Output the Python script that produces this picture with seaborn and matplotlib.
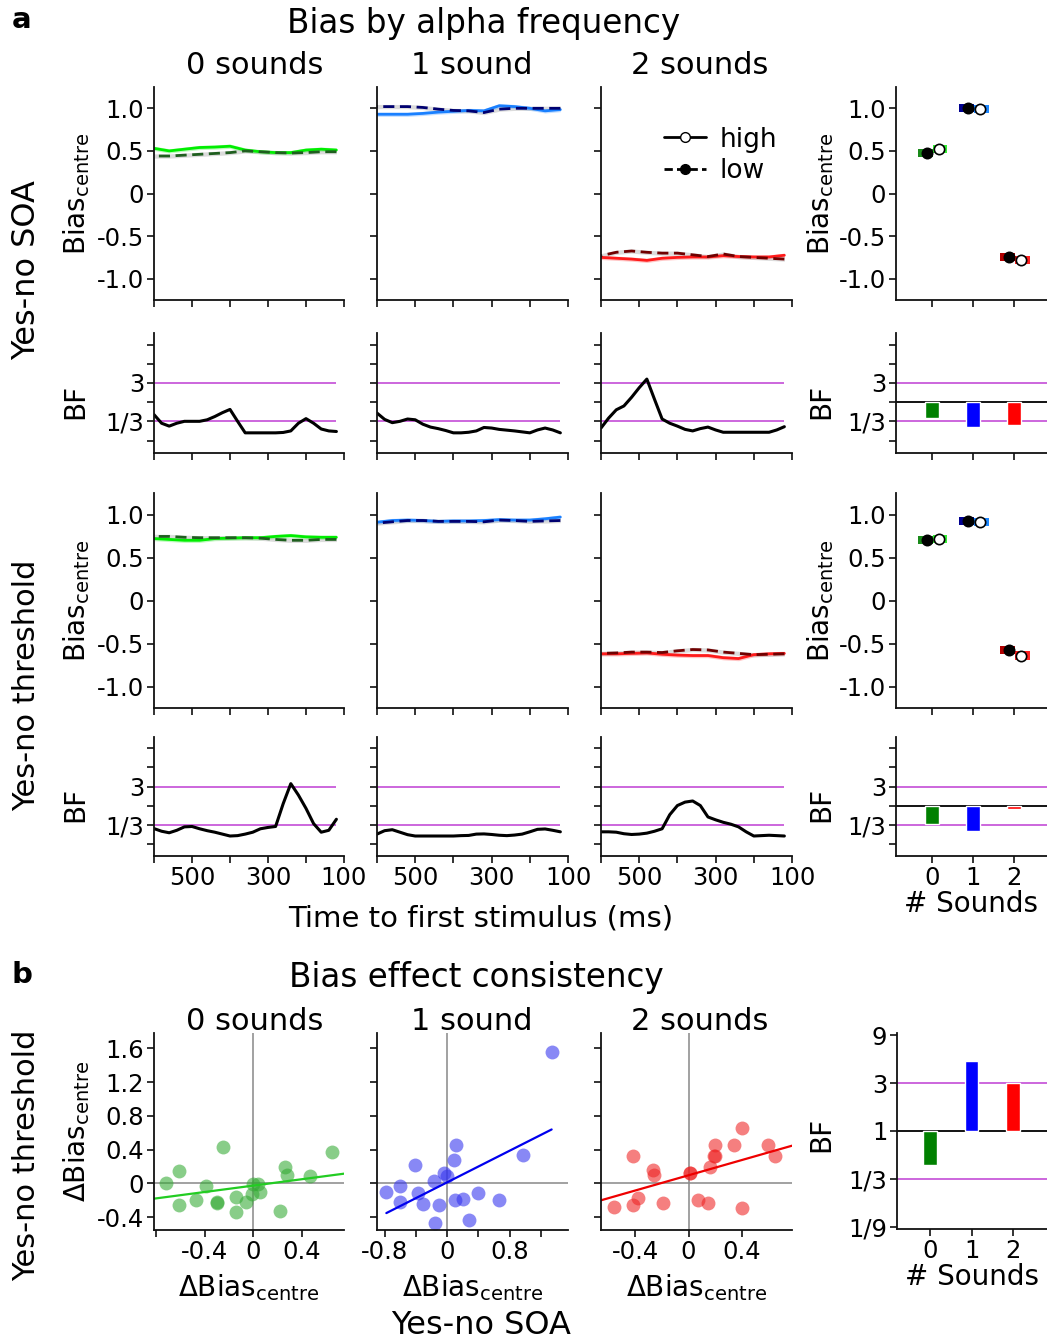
import numpy as np
import pandas as pd
import matplotlib
matplotlib.use("Agg")
import matplotlib.pyplot as plt
from matplotlib.lines import Line2D
import seaborn as sns

sns.set_style("ticks")
plt.rcParams["font.family"] = ["DejaVu Sans"]
plt.rcParams["mathtext.fontset"] = "dejavusans"
plt.rcParams["text.color"] = "black"
plt.rcParams["axes.labelcolor"] = "black"
plt.rcParams["xtick.color"] = "black"
plt.rcParams["ytick.color"] = "black"

# ---------------- data ----------------
time_bias = [600, 560, 520, 480, 440, 400, 360, 320, 280, 240, 200, 160, 120]
time_bf = [600, 580, 560, 540, 520, 500, 480, 460, 440, 420, 400, 380, 360,
           340, 320, 300, 280, 260, 240, 220, 200, 180, 160, 140, 120]

sounds = ["0", "1", "2"]
col_titles = ["0 sounds", "1 sound", "2 sounds"]

# Yes-no SOA bias (high / low alpha frequency)
soa_high_0 = [0.53, 0.50, 0.52, 0.54, 0.545, 0.555, 0.51, 0.49, 0.48, 0.48, 0.51, 0.52, 0.51]
soa_low_0 = [0.44, 0.44, 0.45, 0.46, 0.47, 0.48, 0.50, 0.49, 0.48, 0.475, 0.48, 0.49, 0.49]
soa_high_1 = [0.93, 0.93, 0.93, 0.94, 0.955, 0.965, 0.975, 0.97, 1.03, 1.02, 1.0, 0.97, 0.985]
soa_low_1 = [1.02, 1.02, 1.02, 1.01, 0.99, 0.975, 0.97, 0.95, 0.99, 1.0, 1.0, 1.0, 1.0]
soa_high_2 = [-0.75, -0.76, -0.77, -0.785, -0.76, -0.75, -0.745, -0.745, -0.73, -0.74, -0.745, -0.745, -0.725]
soa_low_2 = [-0.73, -0.69, -0.675, -0.69, -0.70, -0.70, -0.72, -0.74, -0.71, -0.74, -0.75, -0.76, -0.77]

# Yes-no threshold bias
thr_high_0 = [0.72, 0.71, 0.70, 0.70, 0.72, 0.725, 0.73, 0.73, 0.745, 0.755, 0.74, 0.735, 0.735]
thr_low_0 = [0.745, 0.745, 0.735, 0.73, 0.73, 0.73, 0.73, 0.725, 0.71, 0.70, 0.70, 0.71, 0.71]
thr_high_1 = [0.91, 0.93, 0.935, 0.93, 0.92, 0.925, 0.925, 0.93, 0.94, 0.935, 0.935, 0.95, 0.97]
thr_low_1 = [0.90, 0.915, 0.93, 0.93, 0.92, 0.92, 0.92, 0.915, 0.935, 0.93, 0.92, 0.925, 0.93]
thr_high_2 = [-0.62, -0.62, -0.615, -0.61, -0.625, -0.635, -0.64, -0.64, -0.665, -0.675, -0.63, -0.62, -0.615]
thr_low_2 = [-0.615, -0.61, -0.60, -0.60, -0.605, -0.585, -0.57, -0.575, -0.60, -0.615, -0.63, -0.625, -0.62]

# Bayes factors over time (log base 3 of BF)
soa_bf_0 = [-0.65, -1.1, -1.25, -1.1, -1.0, -1.0, -1.0, -0.92, -0.75, -0.55, -0.38, -1.0, -1.6,
            -1.6, -1.6, -1.6, -1.6, -1.58, -1.5, -1.1, -0.86, -1.1, -1.4, -1.5, -1.53]
soa_bf_1 = [-0.57, -0.9, -1.07, -1.0, -0.88, -0.92, -1.15, -1.3, -1.38, -1.48, -1.6, -1.6, -1.57,
            -1.5, -1.32, -1.35, -1.42, -1.46, -1.5, -1.55, -1.6, -1.45, -1.35, -1.45, -1.6]
soa_bf_2 = [-1.35, -0.83, -0.4, -0.2, 0.25, 0.75, 1.2, 0.15, -0.88, -1.1, -1.25, -1.42, -1.5,
            -1.38, -1.3, -1.45, -1.57, -1.57, -1.57, -1.57, -1.57, -1.57, -1.57, -1.45, -1.28]
thr_bf_0 = [-1.21, -1.35, -1.43, -1.3, -1.12, -1.1, -1.22, -1.32, -1.4, -1.5, -1.6, -1.58, -1.5,
            -1.4, -1.22, -1.15, -1.1, 0.1, 1.15, 0.55, -0.15, -0.95, -1.4, -1.3, -0.72]
thr_bf_1 = [-1.5, -1.32, -1.27, -1.4, -1.53, -1.6, -1.6, -1.6, -1.6, -1.6, -1.6, -1.58, -1.57,
            -1.5, -1.49, -1.52, -1.56, -1.58, -1.55, -1.5, -1.38, -1.25, -1.23, -1.3, -1.38]
thr_bf_2 = [-1.38, -1.38, -1.4, -1.48, -1.52, -1.5, -1.45, -1.35, -1.22, -0.48, 0.0, 0.18, 0.24,
            0.0, -0.6, -0.75, -0.88, -0.98, -1.12, -1.38, -1.6, -1.58, -1.56, -1.58, -1.6]

# Summary (mean over time) bias per number of sounds
soa_mean_low = [0.47, 1.00, -0.75]
soa_mean_high = [0.52, 0.99, -0.78]
thr_mean_low = [0.70, 0.92, -0.58]
thr_mean_high = [0.72, 0.91, -0.64]
summary_sem = [0.047, 0.047, 0.047]

# Summary BF bars (log3 BF)
soa_bf_summary = [-0.83, -1.3, -1.19]
thr_bf_summary = [-0.95, -1.35, -0.2]
consistency_bf = [-0.72, 1.46, 1.0]

# Panel b scatter: delta bias (x: Yes-no SOA, y: Yes-no threshold)
b0_x = [-0.72, -0.61, -0.61, -0.47, -0.39, -0.30, -0.30, -0.25, -0.14, -0.14,
        -0.06, -0.01, 0.0, 0.04, 0.06, 0.22, 0.26, 0.28, 0.47, 0.65]
b0_y = [0.0, 0.15, -0.26, -0.2, -0.03, -0.22, -0.23, 0.43, -0.16, -0.34,
        -0.22, -0.12, -0.01, -0.01, -0.1, -0.32, 0.2, 0.1, 0.09, 0.37]
b1_x = [-0.78, -0.61, -0.60, -0.41, -0.37, -0.31, -0.17, -0.15, -0.11, -0.04,
        0.0, 0.09, 0.11, 0.10, 0.20, 0.28, 0.39, 0.67, 0.97, 1.34]
b1_y = [-0.10, -0.03, -0.22, 0.22, -0.11, -0.24, 0.03, -0.47, -0.25, 0.12,
        0.09, 0.28, 0.45, -0.19, -0.18, -0.43, -0.11, -0.19, 0.34, 1.55]
b2_x = [-0.56, -0.42, -0.42, -0.38, -0.27, -0.26, -0.19, 0.01, 0.01, 0.07,
        0.15, 0.16, 0.19, 0.20, 0.20, 0.34, 0.40, 0.40, 0.60, 0.65]
b2_y = [-0.28, 0.32, -0.26, -0.17, 0.16, 0.10, -0.23, 0.12, 0.13, -0.2,
        -0.23, 0.2, 0.32, 0.32, 0.45, 0.45, 0.66, -0.29, 0.45, 0.32]

# ---------------- styles ----------------
high_colors = ["#00ee00", "#1a80ff", "#ff1a1a"]
low_colors = ["#1f5f1f", "#000070", "#700000"]
rect_low = ["#1a8a1a", "#000090", "#b00000"]
rect_high = ["#33ee33", "#1e88ff", "#ff2020"]
bar_colors = ["#008000", "#0000ff", "#ff0000"]
scat_colors = ["#33aa33", "#3333ee", "#ee2222"]
line_colors = ["#22cc22", "#0000ee", "#ee0000"]
magenta = "#cc66dd"

W, H = 1047, 1343
fig = plt.figure(figsize=(W / 100, H / 100), dpi=100)

TICK = 17.5
LAB = 20


def px_ax(x0, y0, x1, y1):
    return fig.add_axes([x0 / W, 1 - y1 / H, (x1 - x0) / W, (y1 - y0) / H])


def base_style(ax):
    sns.despine(ax=ax)
    for s in ["left", "bottom"]:
        ax.spines[s].set_linewidth(1.3)
        ax.spines[s].set_color("#111111")
    ax.tick_params(direction="out", length=5, width=1.2, labelsize=TICK, pad=2,
                   color="#111111", labelcolor="black")


def ftext(x, y, s, **kw):
    fig.text(x / W, 1 - y / H, s, ha=kw.pop("ha", "center"), va=kw.pop("va", "center"),
             color="black", **kw)


cols_x = [(154, 344), (377, 568), (601, 792)]
col3_x = (896, 1047)
rows_y = {"bias1": (87, 300), "bf1": (333, 453), "bias2": (493, 708), "bf2": (737, 856)}

bias_sets = {
    "bias1": [(soa_high_0, soa_low_0), (soa_high_1, soa_low_1), (soa_high_2, soa_low_2)],
    "bias2": [(thr_high_0, thr_low_0), (thr_high_1, thr_low_1), (thr_high_2, thr_low_2)],
}
bf_sets = {"bf1": [soa_bf_0, soa_bf_1, soa_bf_2], "bf2": [thr_bf_0, thr_bf_1, thr_bf_2]}
bias_ylabel = r"Bias$_{\mathregular{centre}}$"

# ---------- panel a: bias time courses ----------
for rk in ["bias1", "bias2"]:
    y0, y1 = rows_y[rk]
    for ci, (x0, x1) in enumerate(cols_x):
        ax = px_ax(x0, y0, x1, y1)
        hi, lo = bias_sets[rk][ci]
        hi_a, lo_a = np.array(hi), np.array(lo)
        ax.fill_between(time_bias, hi_a - 0.025, hi_a + 0.025, color=high_colors[ci], alpha=0.25, lw=0)
        ax.fill_between(time_bias, lo_a - 0.025, lo_a + 0.025, color="#999999", alpha=0.35, lw=0)
        sns.lineplot(x=time_bias, y=hi, ax=ax, color=high_colors[ci], lw=2.0)
        sns.lineplot(x=time_bias, y=lo, ax=ax, color=low_colors[ci], lw=2.0, linestyle=(0, (4, 2)))
        ax.set_xlim(600, 100)
        ax.set_ylim(-1.25, 1.25)
        ax.set_xticks([600, 500, 400, 300, 200, 100])
        ax.set_xticklabels([])
        ax.set_yticks([-1, -0.5, 0, 0.5, 1])
        if ci == 0:
            ax.set_yticklabels(["-1.0", "-0.5", "0", "0.5", "1.0"])
            ax.set_ylabel(bias_ylabel, fontsize=LAB)
            ax.yaxis.set_label_coords(-0.325, 0.5)
        else:
            ax.set_yticklabels([])
            ax.set_ylabel("")
        ax.set_xlabel("")
        base_style(ax)
        if rk == "bias1" and ci == 2:
            handles = [Line2D([], [], color="k", lw=2, ls="-", marker="o", mfc="white", mec="k", ms=7),
                       Line2D([], [], color="k", lw=2, ls=(0, (3, 1.5)), marker="o", mfc="k", mec="k", ms=7)]
            ax.legend(handles, ["high", "low"], loc="center left", bbox_to_anchor=(0.33, 0.68),
                      frameon=False, fontsize=19, handlelength=1.6, handletextpad=0.5,
                      borderpad=0, borderaxespad=0, labelspacing=0.2)

    # summary scatter column
    ax = px_ax(col3_x[0], y0, col3_x[1], y1)
    lo_m = soa_mean_low if rk == "bias1" else thr_mean_low
    hi_m = soa_mean_high if rk == "bias1" else thr_mean_high
    pos = np.arange(3)
    sem = np.array(summary_sem)
    ax.bar(pos - 0.16, 2 * sem, bottom=np.array(lo_m) - sem, width=0.36, color=rect_low, lw=0, zorder=2)
    ax.bar(pos + 0.20, 2 * sem, bottom=np.array(hi_m) - sem, width=0.36, color=rect_high, lw=0, zorder=2)
    sns.scatterplot(x=pos - 0.12, y=lo_m, ax=ax, color="black", s=55, edgecolor="black", linewidth=1.2, zorder=5)
    sns.scatterplot(x=pos + 0.17, y=hi_m, ax=ax, color="white", s=55, edgecolor="black", linewidth=1.2, zorder=5)
    ax.set_xlim(-0.87, 2.8)
    ax.set_ylim(-1.25, 1.25)
    ax.set_xticks([0, 1, 2])
    ax.set_xticklabels([])
    ax.set_yticks([-1, -0.5, 0, 0.5, 1])
    ax.set_yticklabels(["-1.0", "-0.5", "0", "0.5", "1.0"])
    ax.set_ylabel(bias_ylabel, fontsize=LAB)
    ax.yaxis.set_label_coords(-0.40, 0.5)
    base_style(ax)

# ---------- panel a: BF time courses ----------
for rk in ["bf1", "bf2"]:
    y0, y1 = rows_y[rk]
    for ci, (x0, x1) in enumerate(cols_x):
        ax = px_ax(x0, y0, x1, y1)
        ax.hlines([1, -1], 120, 600, color=magenta, lw=1.4)
        sns.lineplot(x=time_bf, y=bf_sets[rk][ci], ax=ax, color="black", lw=2.2)
        ax.set_xlim(600, 100)
        ax.set_ylim(-2.65, 3.6)
        ax.set_xticks([600, 500, 400, 300, 200, 100])
        if rk == "bf2":
            ax.set_xticklabels(["", "500", "", "300", "", "100"])
        else:
            ax.set_xticklabels([])
        ax.set_yticks([-2, -1, 0, 1, 2, 3])
        if ci == 0:
            ax.set_yticklabels(["", "1/3", "", "3", "", ""])
            ax.set_ylabel("BF", fontsize=LAB)
            ax.yaxis.set_label_coords(-0.34, 0.43)
        else:
            ax.set_yticklabels([])
            ax.set_ylabel("")
        ax.set_xlabel("")
        base_style(ax)

    ax = px_ax(col3_x[0], y0, col3_x[1], y1)
    vals = soa_bf_summary if rk == "bf1" else thr_bf_summary
    ax.axhline(1, color=magenta, lw=1.4)
    ax.axhline(-1, color=magenta, lw=1.4)
    ax.axhline(0, color="black", lw=1.3)
    sns.barplot(x=sounds, y=vals, hue=sounds, palette=bar_colors, saturation=1, width=0.33,
                legend=False, ax=ax, zorder=3)
    ax.set_xlim(-0.87, 2.8)
    ax.set_ylim(-2.65, 3.6)
    ax.set_yticks([-2, -1, 0, 1, 2, 3])
    ax.set_yticklabels(["", "1/3", "", "3", "", ""])
    ax.set_xticks([0, 1, 2])
    if rk == "bf2":
        ax.set_xticklabels(["0", "1", "2"])
        ax.set_xlabel("# Sounds", fontsize=20, labelpad=0)
    else:
        ax.set_xticklabels([])
        ax.set_xlabel("")
    ax.set_ylabel("BF", fontsize=LAB)
    ax.yaxis.set_label_coords(-0.40, 0.43)
    base_style(ax)

# ---------- panel b ----------
by0, by1 = 1033, 1230
b_sets = [(b0_x, b0_y), (b1_x, b1_y), (b2_x, b2_y)]
b_xlims = [(-0.82, 0.75), (-0.9, 1.55), (-0.66, 0.78)]
b_xticks = [[-0.8, -0.4, 0, 0.4], [-0.8, -0.4, 0, 0.4, 0.8, 1.2], [-0.4, 0, 0.4]]
b_xticklabels = [["", "-0.4", "0", "0.4"], ["-0.8", "", "0", "", "0.8", ""], ["-0.4", "0", "0.4"]]
b_truncate = [False, True, False]
dlab = r"$\Delta$Bias$_{\mathregular{centre}}$"
for ci, (x0, x1) in enumerate(cols_x):
    ax = px_ax(x0, by0, x1, by1)
    ax.set_xlim(*b_xlims[ci])
    ax.set_ylim(-0.55, 1.78)
    ax.axhline(0, color="#888888", lw=1.1, zorder=0)
    ax.axvline(0, color="#888888", lw=1.1, zorder=0)
    bx, bybv = b_sets[ci]
    sns.regplot(x=bx, y=bybv, ax=ax, ci=None, truncate=b_truncate[ci],
                scatter_kws={"s": 100, "alpha": 0.58, "color": scat_colors[ci], "linewidths": 0},
                line_kws={"color": line_colors[ci], "lw": 1.6})
    ax.set_xlim(*b_xlims[ci])
    ax.set_ylim(-0.55, 1.78)
    ax.set_xticks(b_xticks[ci])
    ax.set_xticklabels(b_xticklabels[ci])
    ax.set_yticks([-0.4, 0, 0.4, 0.8, 1.2, 1.6])
    if ci == 0:
        ax.set_yticklabels(["-0.4", "0", "0.4", "0.8", "1.2", "1.6"])
        ax.set_ylabel(dlab, fontsize=LAB)
        ax.yaxis.set_label_coords(-0.325, 0.5)
    else:
        ax.set_yticklabels([])
        ax.set_ylabel("")
    ax.set_xlabel(dlab, fontsize=LAB, labelpad=6)
    base_style(ax)

ax = px_ax(897, by0, 1047, 1229)
ax.axhline(1, color=magenta, lw=1.4)
ax.axhline(-1, color=magenta, lw=1.4)
ax.axhline(0, color="black", lw=1.3)
sns.barplot(x=sounds, y=consistency_bf, hue=sounds, palette=bar_colors, saturation=1, width=0.33,
            legend=False, ax=ax, zorder=3)
ax.set_xlim(-0.8, 2.82)
ax.set_ylim(-2.05, 2.05)
ax.set_yticks([-2, -1, 0, 1, 2])
ax.set_yticklabels(["1/9", "1/3", "1", "3", "9"])
ax.set_xticks([0, 1, 2])
ax.set_xticklabels(["0", "1", "2"])
ax.set_xlabel("# Sounds", fontsize=20, labelpad=0)
ax.set_ylabel("BF", fontsize=LAB)
ax.yaxis.set_label_coords(-0.41, 0.48)
base_style(ax)

# ---------- figure texts ----------
ftext(12, 20, "a", fontsize=21, fontweight="bold", ha="left")
ftext(484, 24, "Bias by alpha frequency", fontsize=23.5)
for (x0, x1), t, xc in zip(cols_x, col_titles, [255, 472, 700]):
    ftext(xc, 66, t, fontsize=22)
    ftext(xc, 1021, t, fontsize=22)
ftext(27, 270, "Yes-no SOA", fontsize=23, rotation=90)
ftext(27, 685, "Yes-no threshold", fontsize=22, rotation=90)
ftext(481, 918, "Time to first stimulus (ms)", fontsize=21)
ftext(12, 975, "b", fontsize=21, fontweight="bold", ha="left")
ftext(476, 978, "Bias effect consistency", fontsize=23.5)
ftext(27, 1155, "Yes-no threshold", fontsize=22, rotation=90)
ftext(481, 1325, "Yes-no SOA", fontsize=23)

fig.savefig("out.png", dpi=100)
